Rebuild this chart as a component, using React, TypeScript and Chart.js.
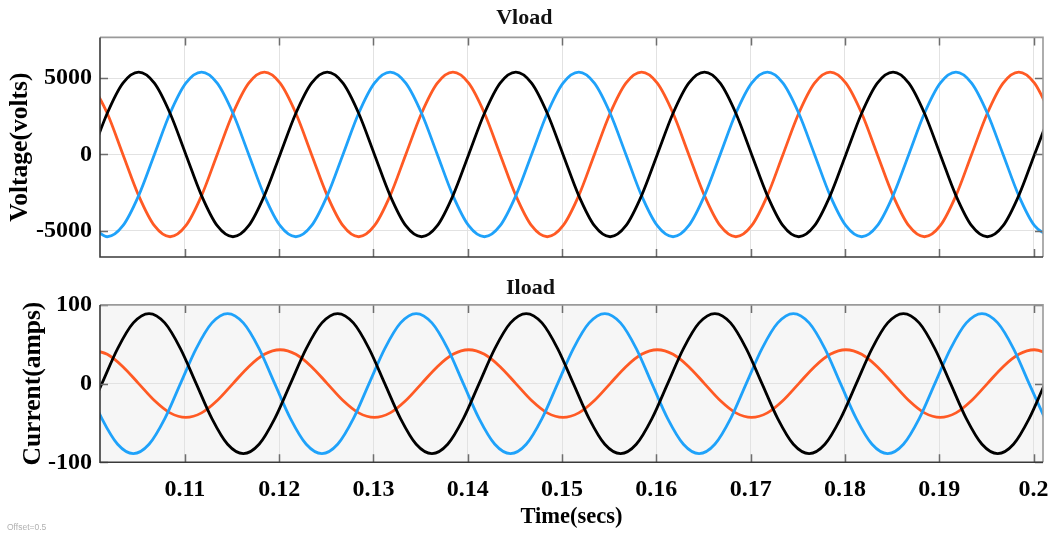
import React, { useEffect, useRef } from "react";
import { Chart, registerables } from "chart.js";

Chart.register(...registerables);

const SERIF = '"Liberation Serif", "Times New Roman", serif';

// Time samples (s) for the voltage traces and the orange current trace
const timeGridV = [
  0.1001, 0.10177, 0.10343, 0.1051, 0.10677, 0.10843, 0.1101, 0.11177, 0.11343, 0.1151, 0.11677, 0.11843,
  0.1201, 0.12177, 0.12343, 0.1251, 0.12677, 0.12843, 0.1301, 0.13177, 0.13343, 0.1351, 0.13677, 0.13843,
  0.1401, 0.14177, 0.14343, 0.1451, 0.14677, 0.14843, 0.1501, 0.15177, 0.15343, 0.1551, 0.15677, 0.15843,
  0.1601, 0.16177, 0.16343, 0.1651, 0.16677, 0.16843, 0.1701, 0.17177, 0.17343, 0.1751, 0.17677, 0.17843,
  0.1801, 0.18177, 0.18343, 0.1851, 0.18677, 0.18843, 0.1901, 0.19177, 0.19343, 0.1951, 0.19677, 0.19843,
  0.2001, 0.20177,
];

// Time samples (s) for the black and blue current traces
const timeGridI = [
  0.09953, 0.1012, 0.10287, 0.10453, 0.1062, 0.10787, 0.10953, 0.1112, 0.11287, 0.11453, 0.1162, 0.11787,
  0.11953, 0.1212, 0.12287, 0.12453, 0.1262, 0.12787, 0.12953, 0.1312, 0.13287, 0.13453, 0.1362, 0.13787,
  0.13953, 0.1412, 0.14287, 0.14453, 0.1462, 0.14787, 0.14953, 0.1512, 0.15287, 0.15453, 0.1562, 0.15787,
  0.15953, 0.1612, 0.16287, 0.16453, 0.1662, 0.16787, 0.16953, 0.1712, 0.17287, 0.17453, 0.1762, 0.17787,
  0.17953, 0.1812, 0.18287, 0.18453, 0.1862, 0.18787, 0.18953, 0.1912, 0.19287, 0.19453, 0.1962, 0.19787,
  0.19953, 0.2012,
];

// Vload (volts), on timeGridV
const vloadBlack = [
  0, 2700, 4677, 5400, 4677, 2700, 0, -2700, -4677, -5400, -4677, -2700,
  0, 2700, 4677, 5400, 4677, 2700, 0, -2700, -4677, -5400, -4677, -2700,
  0, 2700, 4677, 5400, 4677, 2700, 0, -2700, -4677, -5400, -4677, -2700,
  0, 2700, 4677, 5400, 4677, 2700, 0, -2700, -4677, -5400, -4677, -2700,
  0, 2700, 4677, 5400, 4677, 2700, 0, -2700, -4677, -5400, -4677, -2700,
  0, 2700,
];
const vloadBlue = [
  -4677, -5400, -4677, -2700, 0, 2700, 4677, 5400, 4677, 2700, 0, -2700,
  -4677, -5400, -4677, -2700, 0, 2700, 4677, 5400, 4677, 2700, 0, -2700,
  -4677, -5400, -4677, -2700, 0, 2700, 4677, 5400, 4677, 2700, 0, -2700,
  -4677, -5400, -4677, -2700, 0, 2700, 4677, 5400, 4677, 2700, 0, -2700,
  -4677, -5400, -4677, -2700, 0, 2700, 4677, 5400, 4677, 2700, 0, -2700,
  -4677, -5400,
];
const vloadOrange = [
  4677, 2700, 0, -2700, -4677, -5400, -4677, -2700, 0, 2700, 4677, 5400,
  4677, 2700, 0, -2700, -4677, -5400, -4677, -2700, 0, 2700, 4677, 5400,
  4677, 2700, 0, -2700, -4677, -5400, -4677, -2700, 0, 2700, 4677, 5400,
  4677, 2700, 0, -2700, -4677, -5400, -4677, -2700, 0, 2700, 4677, 5400,
  4677, 2700, 0, -2700, -4677, -5400, -4677, -2700, 0, 2700, 4677, 5400,
  4677, 2700,
];

// Iload (amps): black & blue on timeGridI, orange on timeGridV
const iloadBlack = [
  -44.5, 0, 44.5, 77.1, 89, 77.1, 44.5, 0, -44.5, -77.1, -89, -77.1,
  -44.5, 0, 44.5, 77.1, 89, 77.1, 44.5, 0, -44.5, -77.1, -89, -77.1,
  -44.5, 0, 44.5, 77.1, 89, 77.1, 44.5, 0, -44.5, -77.1, -89, -77.1,
  -44.5, 0, 44.5, 77.1, 89, 77.1, 44.5, 0, -44.5, -77.1, -89, -77.1,
  -44.5, 0, 44.5, 77.1, 89, 77.1, 44.5, 0, -44.5, -77.1, -89, -77.1,
  -44.5, 0,
];
const iloadBlue = [
  0, -44.5, -77.1, -89, -77.1, -44.5, 0, 44.5, 77.1, 89, 77.1, 44.5,
  0, -44.5, -77.1, -89, -77.1, -44.5, 0, 44.5, 77.1, 89, 77.1, 44.5,
  0, -44.5, -77.1, -89, -77.1, -44.5, 0, 44.5, 77.1, 89, 77.1, 44.5,
  0, -44.5, -77.1, -89, -77.1, -44.5, 0, 44.5, 77.1, 89, 77.1, 44.5,
  0, -44.5, -77.1, -89, -77.1, -44.5, 0, 44.5, 77.1, 89, 77.1, 44.5,
  0, -44.5,
];
const iloadOrange = [
  43, 37.2, 21.5, 0, -21.5, -37.2, -43, -37.2, -21.5, 0, 21.5, 37.2,
  43, 37.2, 21.5, 0, -21.5, -37.2, -43, -37.2, -21.5, 0, 21.5, 37.2,
  43, 37.2, 21.5, 0, -21.5, -37.2, -43, -37.2, -21.5, 0, 21.5, 37.2,
  43, 37.2, 21.5, 0, -21.5, -37.2, -43, -37.2, -21.5, 0, 21.5, 37.2,
  43, 37.2, 21.5, 0, -21.5, -37.2, -43, -37.2, -21.5, 0, 21.5, 37.2,
  43, 37.2,
];

const timeTicks = [0.11, 0.12, 0.13, 0.14, 0.15, 0.16, 0.17, 0.18, 0.19, 0.2];
const voltTicks = [-5000, 0, 5000];
const currTicks = [-100, 0, 100];

const COLORS = { black: "#000000", blue: "#1fa2fa", orange: "#ff5a24" };

const toPoints = (ts: number[], vs: number[]) => ts.map((t, i) => ({ x: t, y: vs[i] }));

const matlabAxes = {
  id: "matlabAxes",
  beforeDraw(chart: any, _args: any, opts: any) {
    const { ctx, chartArea: a } = chart;
    ctx.save();
    ctx.fillStyle = opts.bg || "#ffffff";
    ctx.fillRect(a.left, a.top, a.right - a.left, a.bottom - a.top);
    ctx.restore();
  },
  afterDraw(chart: any) {
    const { ctx, chartArea: a, scales } = chart;
    const xs = scales.x;
    const ys = scales.y;
    const L = 8;
    ctx.save();
    ctx.lineWidth = 1.5;
    ctx.strokeStyle = "#6e6e6e";
    ctx.beginPath();
    for (const t of xs.ticks) {
      const px = Math.round(xs.getPixelForValue(t.value)) + 0.5;
      ctx.moveTo(px, a.top);
      ctx.lineTo(px, a.top + L);
      ctx.moveTo(px, a.bottom);
      ctx.lineTo(px, a.bottom - L);
    }
    for (const t of ys.ticks) {
      const py = Math.round(ys.getPixelForValue(t.value)) + 0.5;
      ctx.moveTo(a.left, py);
      ctx.lineTo(a.left + L, py);
      ctx.moveTo(a.right, py);
      ctx.lineTo(a.right - L, py);
    }
    ctx.stroke();
    // frame
    ctx.lineWidth = 1.6;
    ctx.strokeStyle = "#9a9a9a";
    ctx.beginPath();
    ctx.moveTo(a.left, a.top);
    ctx.lineTo(a.right, a.top);
    ctx.lineTo(a.right, a.bottom);
    ctx.stroke();
    ctx.strokeStyle = "#3a3a3a";
    ctx.beginPath();
    ctx.moveTo(a.left, a.top);
    ctx.lineTo(a.left, a.bottom);
    ctx.lineTo(a.right, a.bottom);
    ctx.stroke();
    ctx.restore();
  },
};

type PanelCfg = {
  title: string;
  yTitle: string;
  yMin: number;
  yMax: number;
  yTicks: number[];
  showX: boolean;
  padLeft: number;
  padBottom: number;
  xHeight: number;
  titlePad: { top: number; bottom: number };
  bg: string;
  datasets: any[];
};

function buildChart(canvas: HTMLCanvasElement, c: PanelCfg) {
  return new Chart(canvas, {
    type: "line",
    data: { datasets: c.datasets },
    plugins: [matlabAxes],
    options: {
      animation: false,
      responsive: false,
      devicePixelRatio: 1,
      layout: { padding: { left: c.padLeft, right: 9, top: 0, bottom: c.padBottom } },
      elements: { point: { radius: 0 } },
      plugins: {
        legend: { display: false },
        tooltip: { enabled: false },
        title: {
          display: true,
          text: c.title,
          color: "#111",
          font: { family: SERIF, size: 22, weight: "bold" },
          padding: c.titlePad,
        },
        matlabAxes: { bg: c.bg },
      } as any,
      scales: {
        x: {
          type: "linear",
          min: 0.101,
          max: 0.201,
          afterBuildTicks: (s: any) => {
            s.ticks = timeTicks.map((v) => ({ value: v }));
          },
          afterFit: (s: any) => {
            s.height = c.xHeight;
            s.paddingLeft = 0;
            s.paddingRight = 0;
          },
          grid: { color: "#e2e2e2", lineWidth: 1, drawTicks: false },
          border: { display: false },
          ticks: {
            display: c.showX,
            autoSkip: false,
            maxRotation: 0,
            padding: 13,
            color: "#000",
            font: { family: SERIF, size: 24, weight: "bold" },
            callback: (v: any) => String(Number(Number(v).toFixed(2))),
          },
          title: {
            display: c.showX,
            text: "Time(secs)",
            color: "#000",
            font: { family: SERIF, size: 22.5, weight: "bold" },
            padding: { top: 0, bottom: 2 },
          },
        },
        y: {
          type: "linear",
          min: c.yMin,
          max: c.yMax,
          afterBuildTicks: (s: any) => {
            s.ticks = c.yTicks.map((v) => ({ value: v }));
          },
          afterFit: (s: any) => {
            s.width = 100 - c.padLeft;
            s.paddingTop = 0;
            s.paddingBottom = 0;
          },
          grid: { color: "#e2e2e2", lineWidth: 1, drawTicks: false },
          border: { display: false },
          ticks: {
            padding: 8,
            color: "#000",
            font: { family: SERIF, size: 24, weight: "bold" },
            callback: (v: any) => String(v),
          },
          title: {
            display: true,
            text: c.yTitle,
            color: "#000",
            font: { family: SERIF, size: 25.5, weight: "bold" },
            padding: { top: 0, bottom: 0 },
          },
        },
      },
    } as any,
  });
}

const lineDs = (label: string, color: string, pts: any[]) => ({
  label,
  data: pts,
  borderColor: color,
  backgroundColor: color,
  borderWidth: 2.8,
  pointRadius: 0,
  cubicInterpolationMode: "monotone",
  fill: false,
  clip: 0,
});

export default function App() {
  const vRef = useRef<HTMLCanvasElement | null>(null);
  const iRef = useRef<HTMLCanvasElement | null>(null);

  useEffect(() => {
    const vChart = buildChart(vRef.current as HTMLCanvasElement, {
      title: "Vload",
      yTitle: "Voltage(volts)",
      yMin: -6730,
      yMax: 7680,
      yTicks: voltTicks,
      showX: false,
      padLeft: 5.5,
      padBottom: 11,
      xHeight: 0,
      titlePad: { top: 5.5, bottom: 5.5 },
      bg: "#ffffff",
      datasets: [
        lineDs("Va", COLORS.black, toPoints(timeGridV, vloadBlack)),
        lineDs("Vb", COLORS.blue, toPoints(timeGridV, vloadBlue)),
        lineDs("Vc", COLORS.orange, toPoints(timeGridV, vloadOrange)),
      ],
    });
    const iChart = buildChart(iRef.current as HTMLCanvasElement, {
      title: "Iload",
      yTitle: "Current(amps)",
      yMin: -100,
      yMax: 100,
      yTicks: currTicks,
      showX: true,
      padLeft: 18,
      padBottom: 0,
      xHeight: 70.7,
      titlePad: { top: 7, bottom: 3.5 },
      bg: "#f6f6f6",
      datasets: [
        lineDs("Ia", COLORS.black, toPoints(timeGridI, iloadBlack)),
        lineDs("Ib", COLORS.blue, toPoints(timeGridI, iloadBlue)),
        lineDs("Ic", COLORS.orange, toPoints(timeGridV, iloadOrange)),
      ],
    });
    return () => {
      vChart.destroy();
      iChart.destroy();
    };
  }, []);

  return (
    <div style={{ position: "absolute", left: 0, top: 0, width: 1052, height: 533, background: "#fff", overflow: "hidden" }}>
      <canvas ref={vRef} width={1052} height={268} style={{ position: "absolute", left: 0, top: 0, width: 1052, height: 268 }} />
      <canvas ref={iRef} width={1052} height={265} style={{ position: "absolute", left: 0, top: 268, width: 1052, height: 265 }} />
      <div
        style={{
          position: "absolute",
          left: 7,
          top: 521.7,
          fontFamily: '"Liberation Sans", Arial, sans-serif',
          fontSize: 8.5,
          lineHeight: "10px",
          color: "#b0b0b0",
          whiteSpace: "nowrap",
        }}
      >
        Offset=0.5
      </div>
    </div>
  );
}
